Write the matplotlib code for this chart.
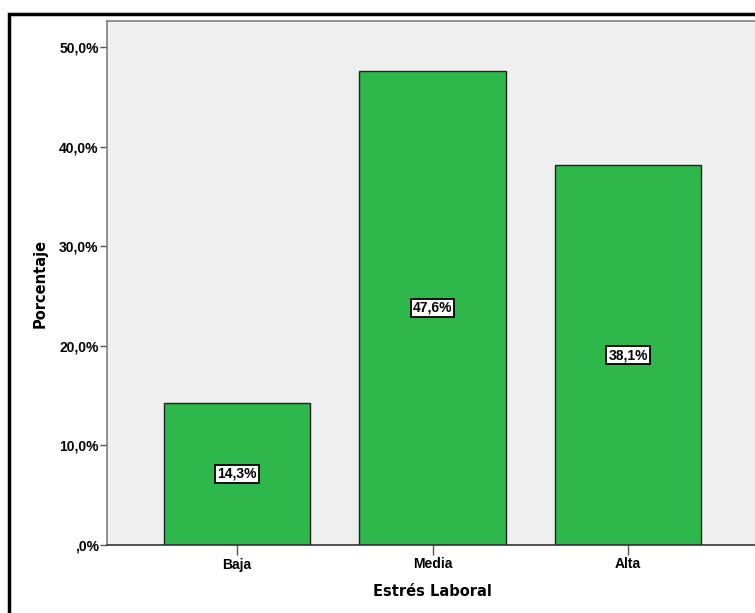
import matplotlib
matplotlib.use("Agg")
import matplotlib.pyplot as plt
from matplotlib.patches import Rectangle

# datos del grafico
categorias = ["Baja", "Media", "Alta"]
porcentajes = [14.3, 47.6, 38.1]
ticks_y = [0, 10, 20, 30, 40, 50]
etiquetas_y = [",0%", "10,0%", "20,0%", "30,0%", "40,0%", "50,0%"]

plt.rcParams['font.family'] = ['Liberation Sans', 'DejaVu Sans']

fig = plt.figure(figsize=(7.55, 6.13), dpi=100)
# marco exterior (recortado por la derecha y abajo)
fig.patches.append(Rectangle((9 / 755, -0.05), 1.0, 1 - 14 / 613 + 0.05,
                             transform=fig.transFigure, fill=False,
                             edgecolor="black", linewidth=2.5))

ax = fig.add_axes([107 / 755, 1 - 545 / 613, 651 / 755, 524 / 613])
ax.set_facecolor("#efefef")

x = range(len(categorias))
barras = ax.bar(x, porcentajes, width=0.75, color="#2eb84c",
                edgecolor="#222222", linewidth=1.0, zorder=2)

for i, v in enumerate(porcentajes):
    txt = ("%.1f" % v).replace(".", ",") + "%"
    ax.text(i, v / 2, txt, ha="center", va="center", fontsize=10,
            fontweight="bold", zorder=3,
            bbox=dict(boxstyle="square,pad=0.15", facecolor="white",
                      edgecolor="black", linewidth=1.3))

ax.set_xlim(-0.665, 2.665)
ax.set_ylim(0, 52.6)
ax.set_xticks(list(x))
ax.set_xticklabels(categorias, fontsize=10, fontweight="bold")
ax.set_yticks(ticks_y)
ax.set_yticklabels(etiquetas_y, fontsize=10, fontweight="bold")
ax.tick_params(axis="y", length=5, width=1, color="#555555", pad=1)
ax.tick_params(axis="x", length=7, width=1, color="#555555", pad=2)

for lado in ["left", "top", "right"]:
    ax.spines[lado].set_color("#808080")
    ax.spines[lado].set_linewidth(1.2)
ax.spines["bottom"].set_color("#333333")
ax.spines["bottom"].set_linewidth(1.2)

ax.set_ylabel("Porcentaje", fontsize=10.5, fontweight="bold", labelpad=8,
              family=["DejaVu Sans"])
ax.set_xlabel("Estrés Laboral", fontsize=10.5, fontweight="bold", labelpad=9,
              family=["DejaVu Sans"])

fig.savefig("out.png", dpi=100)
